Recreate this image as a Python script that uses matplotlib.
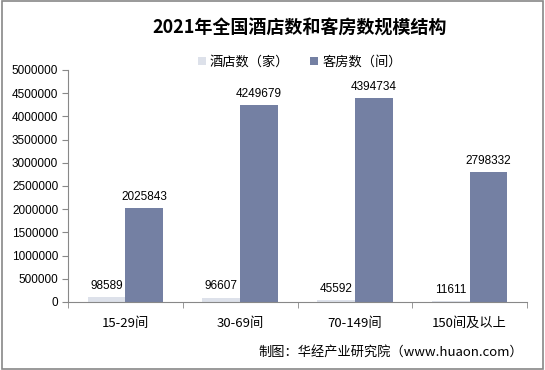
import matplotlib
matplotlib.use("Agg")
import matplotlib.pyplot as plt
import numpy as np
from matplotlib.patches import Rectangle

plt.rcParams['font.family'] = ['Noto Sans CJK SC', 'DejaVu Sans']

categories = ['15-29间', '30-69间', '70-149间', '150间及以上']
hotels = [98589, 96607, 45592, 11611]
rooms = [2025843, 4249679, 4394734, 2798332]
series_names = ['酒店数（家）', '客房数（间）']
yticks = list(range(0, 5000001, 500000))

c_hotel = '#dde1ea'
c_room = '#7480a3'

fig = plt.figure(figsize=(5.45, 3.70), dpi=100)
ax = fig.add_axes([68/545, 1-302/370, (527-68)/545, (302-70)/370])

x = np.arange(len(categories))
w = 0.33
b1 = ax.bar(x - w/2, hotels, w, color=c_hotel, label=series_names[0])
b2 = ax.bar(x + w/2, rooms, w, color=c_room, label=series_names[1])

for rect, v in zip(b1, hotels):
    ax.text(rect.get_x() + rect.get_width()/2, v + 110000, str(v),
            ha='center', va='bottom', fontsize=8.5, family='Liberation Sans')
for rect, v in zip(b2, rooms):
    ax.text(rect.get_x() + rect.get_width()/2, v + 110000, str(v),
            ha='center', va='bottom', fontsize=8.5, family='Liberation Sans')

ax.set_xlim(-0.5, len(categories) - 0.5)
ax.set_ylim(0, 5000000)
ax.set_yticks(yticks)
ax.set_yticklabels([str(t) for t in yticks], fontsize=8.5, family='Liberation Sans')
ax.set_xticks(x)
ax.set_xticklabels(categories, fontsize=9.5)
ax.tick_params(axis='x', length=0, pad=11)
ax.set_xticks(np.arange(-0.5, len(categories)), minor=True)
ax.tick_params(axis='x', which='minor', length=4, color='#888888', direction='out')
ax.tick_params(axis='y', length=4, color='#888888', direction='out', pad=3)

for s in ['top', 'right']:
    ax.spines[s].set_visible(False)
for s in ['left', 'bottom']:
    ax.spines[s].set_color('#888888')
    ax.spines[s].set_linewidth(0.8)

fig.text(0.55, 1-28/370, '2021年全国酒店数和客房数规模结构', ha='center', va='center',
         fontsize=13, fontweight='bold')
leg = fig.legend(handles=[b1, b2], labels=series_names, loc='center',
                 bbox_to_anchor=(0.55, 1-62/370), ncol=2, frameon=False,
                 fontsize=9.5, handlelength=0.6, handleheight=0.6, handletextpad=0.3,
                 columnspacing=1.6)
fig.text(523/545, 1-352/370, '制图：华经产业研究院（www.huaon.com）', ha='right', va='center',
         fontsize=9.5)

fig.patches.append(Rectangle((0.004, 0.004), 0.992, 0.992, transform=fig.transFigure,
                             fill=False, edgecolor='#888888', linewidth=1.2))

fig.savefig('out.png', dpi=100)
